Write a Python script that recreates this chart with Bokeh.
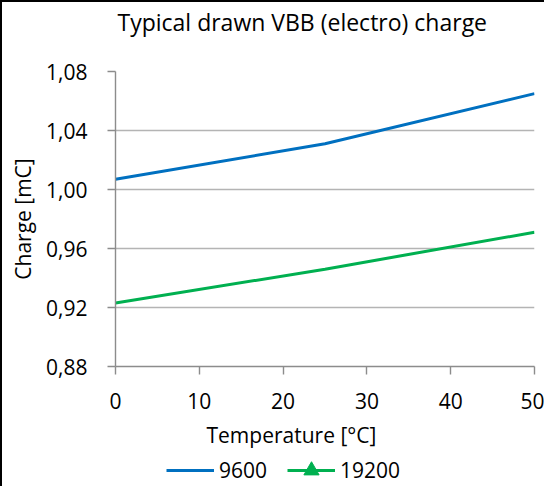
from bokeh.plotting import figure
from bokeh.layouts import column
from bokeh.models import (ColumnDataSource, Range1d, FixedTicker, Legend, LegendItem,
                          Title, Label)
from bokeh.embed import file_html
from bokeh.resources import INLINE

# ---- data ----
temperature = [0, 25, 50]
charge_9600 = [1.007, 1.031, 1.065]
charge_19200 = [0.923, 0.946, 0.971]
series_names = ["9600", "19200"]
x_ticks = [0, 10, 20, 30, 40, 50]
y_ticks = [0.88, 0.92, 0.96, 1.00, 1.04, 1.08]
y_tick_labels = ["0,88", "0,92", "0,96", "1,00", "1,04", "1,08"]
title_text = "Typical drawn VBB (electro) charge"
x_label = "Temperature [°C]"
y_label = "Charge [mC]"

FONT = "Open Sans"
BLUE = "#0070C0"
GREEN = "#00B050"
AXIS_GRAY = "#8C8C8C"
GRID_GRAY = "#B4B4B4"
FS = "21px"

src = ColumnDataSource(dict(t=temperature, a=charge_9600, b=charge_19200))

# ---------------- main chart ----------------
p = figure(width=542, height=416, output_backend="svg", toolbar_location=None,
           x_range=Range1d(0, 50), y_range=Range1d(0.88, 1.08),
           min_border_left=113, min_border_right=10, min_border_top=68, min_border_bottom=52)
p.title = None
p.outline_line_color = None
p.background_fill_color = "white"
p.border_fill_color = "white"

# spacer (inner) and title (outer) above the frame
p.add_layout(Title(text=" ", text_font=FONT, text_font_size="10px", standoff=17,
                   text_color="white"), "above")
p.add_layout(Title(text=title_text, align="left", offset=2, standoff=2,
                   text_font=FONT, text_font_size="23px", text_font_style="normal",
                   text_color="black"), "above")

for ax in (p.xaxis[0], p.yaxis[0]):
    ax.axis_line_color = AXIS_GRAY
    ax.axis_line_width = 1.4
    ax.major_tick_line_color = AXIS_GRAY
    ax.major_tick_line_width = 1.4
    ax.major_tick_in = 0
    ax.major_tick_out = 8
    ax.minor_tick_line_color = None
    ax.major_label_text_font = FONT
    ax.major_label_text_font_size = FS
    ax.major_label_text_color = "black"

p.xaxis.ticker = FixedTicker(ticks=x_ticks)
p.xaxis.major_label_standoff = 18

p.yaxis.ticker = FixedTicker(ticks=y_ticks)
p.yaxis.major_label_overrides = {t: l for t, l in zip(y_ticks, y_tick_labels)}
p.yaxis.major_label_standoff = 20
p.yaxis.axis_label = y_label
p.yaxis.axis_label_text_font = FONT
p.yaxis.axis_label_text_font_size = FS
p.yaxis.axis_label_text_font_style = "normal"
p.yaxis.axis_label_text_color = "black"
p.yaxis.axis_label_standoff = 6

p.xgrid.grid_line_color = None
p.ygrid.grid_line_color = GRID_GRAY
p.ygrid.grid_line_width = 1.4
p.ygrid.ticker = FixedTicker(ticks=y_ticks)

p.line("t", "a", source=src, line_color=BLUE, line_width=3)
p.line("t", "b", source=src, line_color=GREEN, line_width=3)

# ---------------- x-axis title + legend strip ----------------
# (its frame is aligned with the chart's frame; the series lie outside its y range,
#  so only their legend glyphs show)
q = figure(width=542, height=68, output_backend="svg", toolbar_location=None,
           x_axis_type=None, y_axis_type=None, x_range=Range1d(0, 50), y_range=Range1d(0, 0.5),
           min_border=0)
q.title = None
q.outline_line_color = None
q.background_fill_color = "white"
q.border_fill_color = "white"

q.add_layout(Label(x=91, y=52, x_units="screen", y_units="screen", text=x_label,
                   text_font=FONT, text_font_size=FS, text_color="black",
                   text_align="left", text_baseline="alphabetic"))

l1 = q.line("t", "a", source=src, line_color=BLUE, line_width=3)
l2 = q.line("t", "b", source=src, line_color=GREEN, line_width=3)
l2m = q.scatter("t", "b", source=src, marker="triangle", size=17,
                fill_color=GREEN, line_color=GREEN)

legend = Legend(items=[LegendItem(label=series_names[0], renderers=[l1]),
                       LegendItem(label=series_names[1], renderers=[l2, l2m])],
                orientation="horizontal", location=(51, -3),
                glyph_width=48, glyph_height=38, label_standoff=5, spacing=20,
                padding=0, margin=0, border_line_color=None, background_fill_alpha=0,
                label_text_font=FONT, label_text_font_size=FS, label_text_color="black")
q.add_layout(legend, "center")

layout = column(p, q, spacing=0,
                styles={"border-left": "2px solid black", "border-top": "2px solid black"})

open("out.html", "w").write(file_html(layout, INLINE))
